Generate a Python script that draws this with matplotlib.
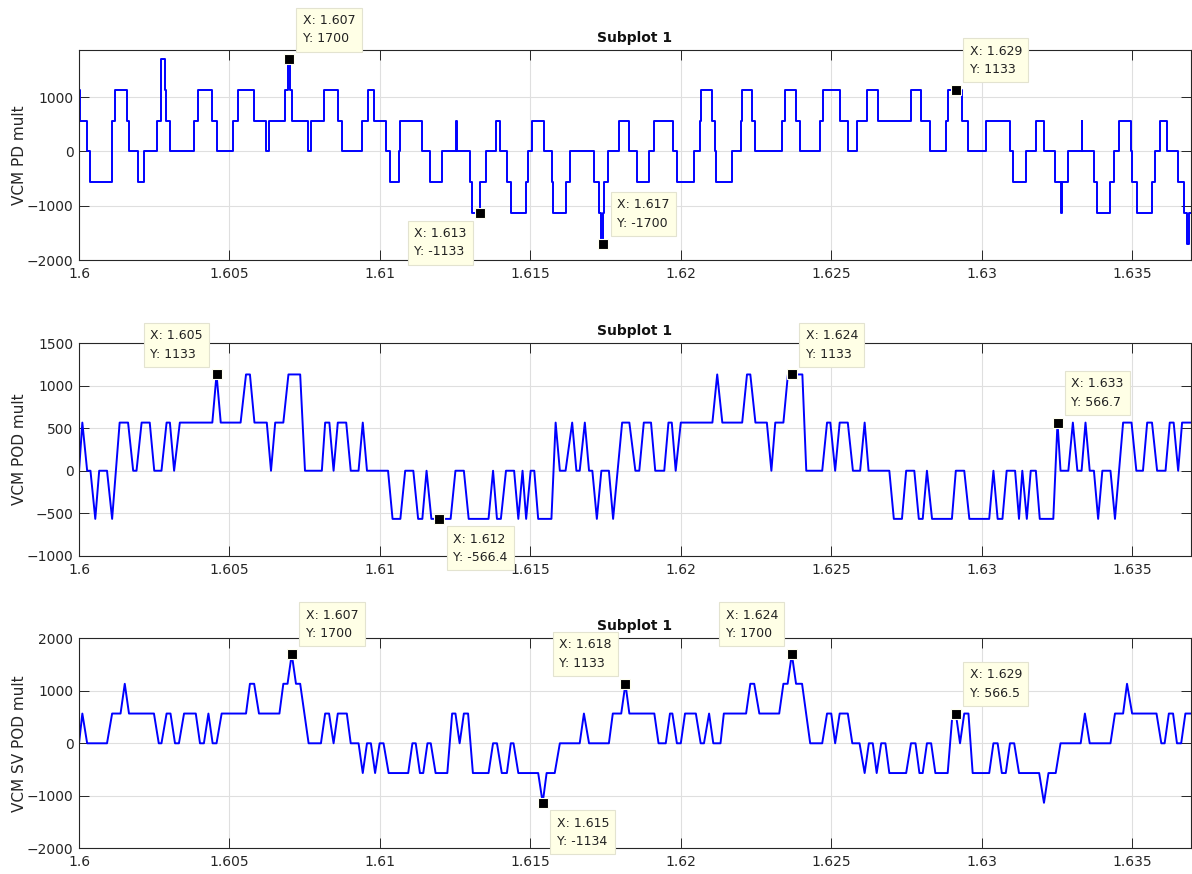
import numpy as np
import matplotlib
matplotlib.use("Agg")
import matplotlib.pyplot as plt

# quantisation step of the multiplier signals (read from the data tips)
Q = 566.7

# ---- subplot 1 : VCM PD mult (zero-order hold, level in steps of Q) ----
pd_t = [1.60000, 1.60002, 1.60027, 1.60038, 1.60108, 1.60110, 1.60119, 1.60161,
        1.60166, 1.60196, 1.60215, 1.60258, 1.60271, 1.60274, 1.60285, 1.60288,
        1.60304, 1.60383, 1.60396, 1.60441, 1.60460, 1.60511, 1.60529, 1.60582,
        1.60620, 1.60633, 1.60685, 1.60693, 1.60701, 1.60707, 1.60762, 1.60770,
        1.60815, 1.60862, 1.60873, 1.60940, 1.60962, 1.60981, 1.61021, 1.61034,
        1.61064, 1.61068, 1.61141, 1.61166, 1.61207, 1.61252, 1.61256, 1.61298,
        1.61307, 1.61334, 1.61354, 1.61387, 1.61399, 1.61424, 1.61436, 1.61486,
        1.61491, 1.61506, 1.61546, 1.61572, 1.61576, 1.61620, 1.61633, 1.61711,
        1.61728, 1.61736, 1.61742, 1.61745, 1.61758, 1.61796, 1.61827, 1.61855,
        1.61894, 1.61912, 1.61975, 1.61989, 1.62044, 1.62064, 1.62068, 1.62105,
        1.62114, 1.62117, 1.62171, 1.62200, 1.62203, 1.62235, 1.62246, 1.62336,
        1.62345, 1.62382, 1.62395, 1.62464, 1.62472, 1.62528, 1.62555, 1.62585,
        1.62619, 1.62655, 1.62765, 1.62798, 1.62828, 1.62881, 1.62887, 1.62935,
        1.62956, 1.63014, 1.63094, 1.63104, 1.63146, 1.63180, 1.63207, 1.63243,
        1.63264, 1.63268, 1.63288, 1.63332, 1.63335, 1.63373, 1.63384, 1.63428,
        1.63439, 1.63456, 1.63495, 1.63499, 1.63517, 1.63566, 1.63577, 1.63594,
        1.63616, 1.63653, 1.63674, 1.63684, 1.63690, 1.63700]
pd_q = [2, 1, 0, -1, 0, 1, 2, 1,
        0, -1, 0, 1, 2, 3, 2, 1,
        0, 1, 2, 1, 0, 1, 2, 1,
        0, 1, 2, 3, 2, 1, 0, 1,
        2, 1, 0, 1, 2, 1, 0, -1,
        0, 1, 0, -1, 0, 1, 0, -1,
        -2, -1, 0, 1, 0, -1, -2, -1,
        0, 1, 0, -1, -2, -1, 0, -1,
        -2, -3, -2, -1, 0, 1, 0, -1,
        0, 1, 0, -1, 0, 1, 2, 1,
        0, -1, 0, 1, 2, 1, 0, 1,
        2, 1, 0, 1, 2, 1, 0, 1,
        2, 1, 2, 1, 0, 1, 2, 1,
        0, 1, 0, -1, 0, 1, 0, -1,
        -2, -1, 0, 1, 0, -1, -2, -1,
        0, 1, 0, -1, -2, -1, 0, 1,
        0, -1, -2, -3, -2, -2]

# ---- subplot 2 : VCM POD mult (vertices, level in steps of Q) ----
pod_t = [1.60000, 1.60011, 1.60027, 1.60038, 1.60054, 1.60067, 1.60093, 1.60110,
         1.60135, 1.60163, 1.60180, 1.60191, 1.60208, 1.60235, 1.60250, 1.60274,
         1.60291, 1.60302, 1.60316, 1.60335, 1.60443, 1.60457, 1.60471, 1.60537,
         1.60555, 1.60568, 1.60583, 1.60624, 1.60638, 1.60652, 1.60679, 1.60696,
         1.60735, 1.60751, 1.60807, 1.60818, 1.60832, 1.60846, 1.60860, 1.60888,
         1.60903, 1.60929, 1.60943, 1.60957, 1.61027, 1.61042, 1.61068, 1.61084,
         1.61111, 1.61127, 1.61141, 1.61155, 1.61171, 1.61235, 1.61251, 1.61279,
         1.61295, 1.61361, 1.61376, 1.61389, 1.61402, 1.61419, 1.61446, 1.61460,
         1.61474, 1.61486, 1.61501, 1.61513, 1.61526, 1.61570, 1.61584, 1.61598,
         1.61617, 1.61639, 1.61653, 1.61664, 1.61681, 1.61695, 1.61706, 1.61721,
         1.61736, 1.61761, 1.61775, 1.61805, 1.61829, 1.61849, 1.61862, 1.61877,
         1.61901, 1.61915, 1.61945, 1.61959, 1.61970, 1.61983, 1.62000, 1.62105,
         1.62121, 1.62138, 1.62204, 1.62220, 1.62231, 1.62248, 1.62286, 1.62301,
         1.62314, 1.62341, 1.62356, 1.62404, 1.62417, 1.62470, 1.62486, 1.62497,
         1.62513, 1.62528, 1.62555, 1.62572, 1.62596, 1.62611, 1.62624, 1.62693,
         1.62708, 1.62735, 1.62749, 1.62776, 1.62791, 1.62804, 1.62818, 1.62835,
         1.62901, 1.62914, 1.62942, 1.62959, 1.63025, 1.63039, 1.63053, 1.63069,
         1.63083, 1.63111, 1.63124, 1.63135, 1.63150, 1.63163, 1.63180, 1.63193,
         1.63238, 1.63252, 1.63262, 1.63288, 1.63303, 1.63318, 1.63332, 1.63345,
         1.63359, 1.63373, 1.63387, 1.63401, 1.63428, 1.63443, 1.63470, 1.63498,
         1.63514, 1.63536, 1.63550, 1.63566, 1.63583, 1.63611, 1.63625, 1.63638,
         1.63653, 1.63666, 1.63700]
pod_q = [0, 1, 0, 0, -1, 0, 0, -1,
         1, 1, 0, 0, 1, 1, 0, 0,
         1, 1, 0, 1, 1, 2, 1, 1,
         2, 2, 1, 1, 0, 1, 1, 2,
         2, 0, 0, 1, 1, 0, 1, 1,
         0, 0, 1, 0, 0, -1, -1, 0,
         0, -1, -1, 0, -1, -1, 0, 0,
         -1, -1, 0, -1, -1, 0, 0, -1,
         0, -1, 0, 0, -1, -1, 1, 0,
         0, 1, 0, 0, 1, 0, 0, -1,
         0, 0, -1, 1, 1, 0, 0, 1,
         1, 0, 0, 1, 1, 0, 1, 1,
         2, 1, 1, 2, 2, 1, 1, 0,
         1, 1, 2, 2, 0, 0, 1, 1,
         0, 1, 1, 0, 0, 1, 0, 0,
         -1, -1, 0, 0, -1, -1, 0, -1,
         -1, 0, 0, -1, -1, 0, -1, -1,
         0, 0, -1, 0, -1, 0, 0, -1,
         -1, 1, 0, 0, 1, 0, 0, 1,
         0, 0, -1, 0, 0, -1, 1, 1,
         0, 0, 1, 1, 0, 0, 1, 1,
         0, 1, 1]

# ---- subplot 3 : VCM SV POD mult (vertices, level in steps of Q) ----
sv_t = [1.60000, 1.60011, 1.60027, 1.60093, 1.60110, 1.60138, 1.60152, 1.60166,
        1.60249, 1.60265, 1.60274, 1.60291, 1.60304, 1.60319, 1.60332, 1.60349,
        1.60388, 1.60402, 1.60415, 1.60430, 1.60444, 1.60457, 1.60474, 1.60555,
        1.60568, 1.60582, 1.60598, 1.60666, 1.60679, 1.60693, 1.60707, 1.60721,
        1.60735, 1.60763, 1.60804, 1.60818, 1.60831, 1.60846, 1.60860, 1.60890,
        1.60903, 1.60929, 1.60943, 1.60957, 1.60970, 1.60984, 1.60999, 1.61012,
        1.61029, 1.61094, 1.61108, 1.61119, 1.61133, 1.61144, 1.61158, 1.61169,
        1.61185, 1.61224, 1.61240, 1.61251, 1.61265, 1.61279, 1.61293, 1.61309,
        1.61361, 1.61376, 1.61389, 1.61405, 1.61422, 1.61435, 1.61444, 1.61460,
        1.61526, 1.61541, 1.61554, 1.61581, 1.61598, 1.61664, 1.61678, 1.61695,
        1.61761, 1.61774, 1.61802, 1.61816, 1.61829, 1.61912, 1.61926, 1.61950,
        1.61964, 1.61972, 1.61987, 1.62000, 1.62014, 1.62050, 1.62066, 1.62077,
        1.62094, 1.62108, 1.62132, 1.62143, 1.62217, 1.62231, 1.62244, 1.62261,
        1.62327, 1.62341, 1.62355, 1.62369, 1.62383, 1.62403, 1.62430, 1.62470,
        1.62486, 1.62500, 1.62513, 1.62528, 1.62555, 1.62570, 1.62594, 1.62611,
        1.62625, 1.62638, 1.62651, 1.62666, 1.62680, 1.62693, 1.62749, 1.62765,
        1.62780, 1.62793, 1.62804, 1.62818, 1.62832, 1.62846, 1.62887, 1.62903,
        1.62914, 1.62928, 1.62942, 1.62956, 1.62970, 1.63025, 1.63039, 1.63053,
        1.63067, 1.63080, 1.63094, 1.63108, 1.63124, 1.63191, 1.63207, 1.63222,
        1.63246, 1.63262, 1.63329, 1.63343, 1.63359, 1.63428, 1.63443, 1.63470,
        1.63483, 1.63500, 1.63581, 1.63597, 1.63608, 1.63622, 1.63636, 1.63649,
        1.63663, 1.63677, 1.63700]
sv_q = [0, 1, 0, 0, 1, 1, 2, 1,
        1, 0, 0, 1, 1, 0, 0, 1,
        1, 0, 0, 1, 0, 0, 1, 1,
        2, 2, 1, 1, 2, 2, 3, 2,
        2, 0, 0, 1, 1, 0, 1, 1,
        0, 0, -1, 0, 0, -1, 0, 0,
        -1, -1, 0, 0, -1, -1, 0, 0,
        -1, -1, 1, 1, 0, 1, 1, -1,
        -1, 0, 0, -1, -1, 0, 0, -1,
        -1, -2, -1, -1, 0, 0, 1, 0,
        0, 1, 1, 2, 1, 1, 0, 0,
        1, 1, 0, 0, 1, 1, 0, 0,
        1, 0, 0, 1, 1, 2, 2, 1,
        1, 2, 2, 3, 2, 2, 0, 0,
        1, 1, 0, 1, 1, 0, 0, -1,
        0, 0, -1, 0, 0, -1, -1, 0,
        0, -1, -1, 0, 0, -1, -1, 1,
        1, 0, 1, 1, -1, -1, 0, 0,
        -1, -1, 0, 0, -1, -1, -2, -1,
        -1, 0, 0, 1, 0, 0, 1, 1,
        2, 1, 1, 0, 0, 1, 1, 0,
        0, 1, 1]

# data tips: (x, y, placement)
pd_tips = [(1.60697, 1700, "ur"), (1.61334, -1133, "ll"),
           (1.61741, -1700, "ur"), (1.62914, 1133, "ur")]
pod_tips = [(1.60457, 1133, "ul"), (1.61198, -566.4, "lr"),
            (1.62369, 1133, "ur"), (1.63252, 566.7, "ur")]
sv_tips = [(1.60707, 1700, "ur"), (1.61816, 1133, "ul"), (1.61541, -1134, "lr"),
           (1.62369, 1700, "ul"), (1.62914, 566.5, "ur")]

x_ticks = [1.6, 1.605, 1.61, 1.615, 1.62, 1.625, 1.63, 1.635]
x_lim = (1.6, 1.63695)

plt.rcParams["font.family"] = ["DejaVu Sans"]
fig = plt.figure(figsize=(11.92, 8.74), dpi=100)

ax1 = fig.add_axes([0.0663, 0.7025, 0.9327, 0.2403])
ax2 = fig.add_axes([0.0663, 0.3642, 0.9327, 0.2430])
ax3 = fig.add_axes([0.0663, 0.0294, 0.9327, 0.2403])

dark = "#262626"


def style(ax, ylim, yticks, ylabel):
    ax.set_xlim(*x_lim)
    ax.set_ylim(*ylim)
    ax.set_xticks(x_ticks)
    ax.set_xticklabels([f"{v:g}" for v in x_ticks])
    ax.set_yticks(yticks)
    ax.grid(True, color="#dfdfdf", linewidth=0.8)
    ax.set_axisbelow(True)
    ax.tick_params(direction="in", top=True, right=True, length=7, width=0.7,
                   colors=dark, labelsize=10)
    ax.tick_params(axis="x", pad=5)
    ax.tick_params(axis="y", pad=4)
    for sp in ax.spines.values():
        sp.set_color(dark)
        sp.set_linewidth(0.8)
    ax.set_ylabel(ylabel, fontsize=11, color=dark)
    ax.yaxis.set_label_coords(-0.047, 0.5)
    ax.set_title("Subplot 1", fontsize=10, fontweight="bold", color="#111111", pad=6)


def add_tips(ax, tips):
    off = 10
    for x, y, where in tips:
        ax.plot([x], [y], "s", ms=7.5, mfc="black", mec="#fffff0", mew=0.8,
                zorder=8, clip_on=False)
        dx = off if where[1] == "r" else -off
        dy = off if where[0] == "u" else -off
        ax.annotate(f"X: {x:.4g}\nY: {y:.4g}", (x, y), xytext=(dx, dy),
                    textcoords="offset points",
                    ha="left" if dx > 0 else "right",
                    va="bottom" if dy > 0 else "top",
                    multialignment="left",
                    fontsize=9, color="#222222", linespacing=1.55,
                    bbox=dict(boxstyle="square,pad=0.5", fc="#ffffe6", ec="#e3e3d0", lw=0.8),
                    zorder=10, annotation_clip=False)


line_kw = dict(color="#0000ff", linewidth=1.4)

pd_v = [q * Q for q in pd_q]
ax1.plot(pd_t, pd_v, drawstyle="steps-post", **line_kw)
style(ax1, (-2000, 1870), [-2000, -1000, 0, 1000], "VCM PD mult")
add_tips(ax1, pd_tips)

pod_v = [q * Q for q in pod_q]
ax2.plot(pod_t, pod_v, **line_kw)
style(ax2, (-1000, 1500), [-1000, -500, 0, 500, 1000, 1500], "VCM POD mult")
add_tips(ax2, pod_tips)

sv_v = [q * Q for q in sv_q]
ax3.plot(sv_t, sv_v, **line_kw)
style(ax3, (-2000, 2000), [-2000, -1000, 0, 1000, 2000], "VCM SV POD mult")
add_tips(ax3, sv_tips)

fig.savefig("out.png", dpi=100)
